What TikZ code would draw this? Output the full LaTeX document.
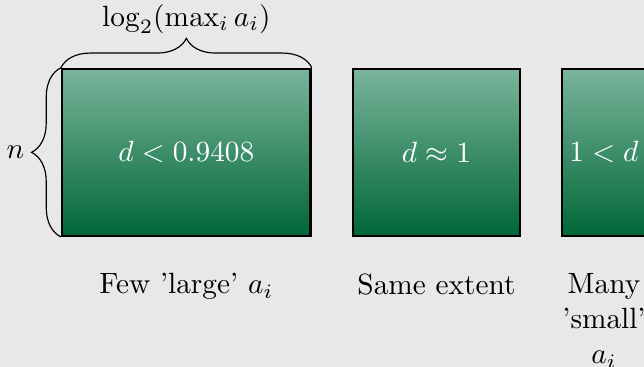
\documentclass[tikz,border=0pt]{standalone}
\usetikzlibrary{positioning,decorations.pathreplacing}
\definecolor{bgc}{RGB}{232,232,232}
\definecolor{gtop}{RGB}{122,181,155}
\definecolor{gbot}{RGB}{0,102,56}
\begin{document}
\begin{tikzpicture}[node distance=2.5mm and 4.8mm,box/.style={draw,thick,inner sep=0pt,minimum height=2cm,top color=gtop,bottom color=gbot,text=white},note/.style={align=center,inner sep=0pt},brc/.style={decorate,decoration={brace,amplitude=10pt}}]
\fill[bgc] (-0.73,-1.557) rectangle (6.99,2.84);
\useasboundingbox (-0.73,-1.557) rectangle (6.99,2.84);
\node[box,minimum width=2.98cm,anchor=south west] (few) at (0,0) {$d<0.9408$};
\node[box,minimum width=2cm,right=of few] (same) {$d\approx 1$};
\node[box,minimum width=1cm,right=of same] (many) {$1<d$};
\node[note,text width=3cm,below=4.3mm of few] (fewnote) {Few 'large' $a_i$};
\node[note,text width=2cm,below=4.3mm of same] (samenote) {Same extent};
\node[note,text width=1cm,below=4.3mm of many] (manynote) {Many 'small' $a_i$};
% extent braces
\draw[brc] (few.north west) -- (few.north east) node[midway,above,yshift=8pt] (width) {$\log_2(\max_i a_i)$};
\draw[brc] (few.south west) -- (few.north west) node[midway,left,xshift=-9pt] (height) {$n$};
\end{tikzpicture}
\end{document}
